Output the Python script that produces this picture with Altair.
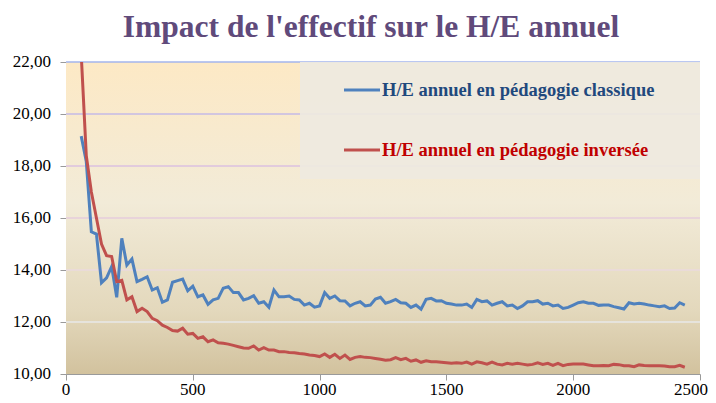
import altair as alt
import pandas as pd

# ---------------- data ----------------
effectif = list(range(60, 2441, 20))

he_classique = [
    19.15, 18.17, 15.47, 15.38, 13.51, 13.70, 14.13, 12.95, 15.22, 14.19,
    14.42, 13.55, 13.64, 13.74, 13.23, 13.32, 12.76, 12.85, 13.53, 13.59,
    13.65, 13.20, 13.38, 12.97, 13.04, 12.68, 12.85, 12.91, 13.30, 13.36,
    13.13, 13.13, 12.85, 12.91, 13.01, 12.72, 12.78, 12.57, 13.23, 12.97,
    12.97, 13.00, 12.87, 12.85, 12.65, 12.72, 12.57, 12.62, 13.13, 12.91,
    13.00, 12.82, 12.81, 12.62, 12.72, 12.78, 12.62, 12.65, 12.88, 12.95,
    12.72, 12.78, 12.87, 12.74, 12.72, 12.56, 12.65, 12.49, 12.87, 12.91,
    12.81, 12.82, 12.72, 12.69, 12.65, 12.65, 12.69, 12.56, 12.87, 12.78,
    12.81, 12.65, 12.72, 12.78, 12.62, 12.65, 12.52, 12.62, 12.78, 12.78,
    12.82, 12.69, 12.72, 12.62, 12.65, 12.52, 12.56, 12.65, 12.74, 12.78,
    12.72, 12.72, 12.64, 12.65, 12.65, 12.59, 12.55, 12.50, 12.74, 12.69,
    12.72, 12.69, 12.65, 12.62, 12.59, 12.62, 12.52, 12.54, 12.74, 12.65,
]

he_inversee = [
    22.30, 18.40, 17.00, 16.00, 15.00, 14.55, 14.52, 13.55, 13.60, 12.85,
    12.97, 12.40, 12.53, 12.40, 12.14, 12.05, 11.88, 11.79, 11.67, 11.65,
    11.76, 11.53, 11.56, 11.37, 11.43, 11.24, 11.31, 11.20, 11.18, 11.15,
    11.10, 11.05, 11.00, 10.99, 11.08, 10.92, 11.01, 10.92, 10.92, 10.86,
    10.86, 10.83, 10.82, 10.79, 10.77, 10.73, 10.71, 10.67, 10.77, 10.64,
    10.76, 10.60, 10.73, 10.56, 10.64, 10.67, 10.64, 10.63, 10.60, 10.57,
    10.53, 10.55, 10.63, 10.55, 10.60, 10.49, 10.54, 10.45, 10.51, 10.47,
    10.47, 10.45, 10.43, 10.41, 10.43, 10.41, 10.46, 10.38, 10.47, 10.43,
    10.38, 10.46, 10.38, 10.35, 10.41, 10.38, 10.41, 10.38, 10.35, 10.37,
    10.43, 10.37, 10.41, 10.33, 10.41, 10.32, 10.37, 10.38, 10.38, 10.38,
    10.35, 10.32, 10.32, 10.33, 10.32, 10.37, 10.36, 10.32, 10.32, 10.28,
    10.35, 10.33, 10.32, 10.32, 10.32, 10.31, 10.28, 10.28, 10.33, 10.26,
]

serie_classique = "H/E annuel en pédagogie classique"
serie_inversee = "H/E annuel en pédagogie inversée"
titre = "Impact de l'effectif sur le H/E annuel"

x_ticks = [0, 500, 1000, 1500, 2000, 2500]
y_ticks = [10, 12, 14, 16, 18, 20, 22]
y_tick_labels = ["10,00", "12,00", "14,00", "16,00", "18,00", "20,00", "22,00"]
grid_values = [12, 14, 16, 18, 20, 22]

n = len(effectif)
df = pd.DataFrame({
    "effectif": effectif + effectif,
    "he": he_classique + he_inversee,
    "serie": [serie_classique] * n + [serie_inversee] * n,
})

# ---------------- layout ----------------
W, H = 634, 312
FONT = "Liberation Serif, DejaVu Serif, serif"
BLUE, RED = "#4F81BD", "#C0504D"
LABEL_SIZE = 17

x_scale = alt.Scale(domain=[0, 2500], nice=False, zero=False)
y_scale = alt.Scale(domain=[10, 22], nice=False, zero=False)

x_axis = alt.Axis(values=x_ticks, grid=False, title=None, labels=False,
                  domainColor="#9A9A9A", tickColor="#9A9A9A", tickSize=6)
y_axis = alt.Axis(values=y_ticks, grid=False, title=None, labels=False,
                  domainColor="#9A9A9A", tickColor="#9A9A9A", tickSize=6)

one = pd.DataFrame({"k": [0]})

background = alt.Chart(one).mark_rect(
    fill=alt.LinearGradient(
        gradient="linear", x1=0, x2=0, y1=0, y2=1,
        stops=[
            alt.GradientStop(offset=0, color="#FDE9C5"),
            alt.GradientStop(offset=0.45, color="#F2EBD8"),
            alt.GradientStop(offset=0.8, color="#E3D8BC"),
            alt.GradientStop(offset=1, color="#D2C29E"),
        ],
    )
).encode(x=alt.value(0), x2=alt.value(W), y=alt.value(0), y2=alt.value(H))

grid = alt.Chart(pd.DataFrame({"v": grid_values})).mark_rule(strokeWidth=1.5).encode(
    y=alt.Y("v:Q", scale=y_scale, axis=y_axis),
    stroke=alt.Stroke("v:Q", scale=alt.Scale(domain=[12, 22], range=["#E9E8E8", "#A3B5EC"]),
                      legend=None),
)

lines = alt.Chart(df).mark_line(strokeWidth=3, clip=True).encode(
    x=alt.X("effectif:Q", scale=x_scale, axis=x_axis),
    y=alt.Y("he:Q", scale=y_scale, axis=y_axis),
    color=alt.Color("serie:N", scale=alt.Scale(domain=[serie_classique, serie_inversee],
                                               range=[BLUE, RED]), legend=None),
)

# tick labels drawn as text (serif, like the original)
x_labels = alt.Chart(pd.DataFrame({"t": x_ticks[:-1]})).mark_text(
    font=FONT, fontSize=LABEL_SIZE, color="#000000", align="center", baseline="top"
).encode(x=alt.X("t:Q", scale=x_scale), y=alt.value(H + 8), text=alt.Text("t:Q", format="d"))

x_label_last = alt.Chart(pd.DataFrame({"t": x_ticks[-1:]})).mark_text(
    font=FONT, fontSize=LABEL_SIZE, color="#000000", align="right", baseline="top", dx=8
).encode(x=alt.X("t:Q", scale=x_scale), y=alt.value(H + 8), text=alt.Text("t:Q", format="d"))

y_labels = alt.Chart(pd.DataFrame({"t": y_ticks, "lab": y_tick_labels})).mark_text(
    font=FONT, fontSize=LABEL_SIZE, color="#000000", align="right", baseline="middle"
).encode(y=alt.Y("t:Q", scale=y_scale), x=alt.value(-15), text="lab:N")

# ---------------- legend ----------------
legend_box = alt.Chart(one).mark_rect(fill="#EEEAE0", opacity=0.93).encode(
    x=alt.value(234), x2=alt.value(W), y=alt.value(0), y2=alt.value(117))

leg1_line = alt.Chart(one).mark_rule(color=BLUE, strokeWidth=3).encode(
    x=alt.value(278), x2=alt.value(314), y=alt.value(28))
leg2_line = alt.Chart(one).mark_rule(color=RED, strokeWidth=3).encode(
    x=alt.value(278), x2=alt.value(314), y=alt.value(88))

leg1_text = alt.Chart(pd.DataFrame({"label": [serie_classique]})).mark_text(
    font=FONT, fontSize=18.5, fontWeight="bold", color="#1F497D",
    align="left", baseline="middle").encode(
    x=alt.value(316), y=alt.value(28), text="label:N")
leg2_text = alt.Chart(pd.DataFrame({"label": [serie_inversee]})).mark_text(
    font=FONT, fontSize=18.5, fontWeight="bold", color="#C00000",
    align="left", baseline="middle").encode(
    x=alt.value(316), y=alt.value(88), text="label:N")

chart = alt.layer(
    background, grid, lines, x_labels, x_label_last, y_labels,
    legend_box, leg1_line, leg2_line, leg1_text, leg2_text
).properties(
    width=W, height=H,
    title=alt.TitleParams(text=titre, font=FONT, fontSize=31.5, fontWeight="bold",
                          color="#604A7B", anchor="middle", dx=-12, offset=10),
    padding={"left": 58, "top": 54, "right": 8, "bottom": 25},
    autosize=alt.AutoSizeParams(type="none"),
    background="#FFFFFF",
).configure_view(stroke=None)

chart.save("out.html", embed_options={"renderer": "svg", "actions": False})
